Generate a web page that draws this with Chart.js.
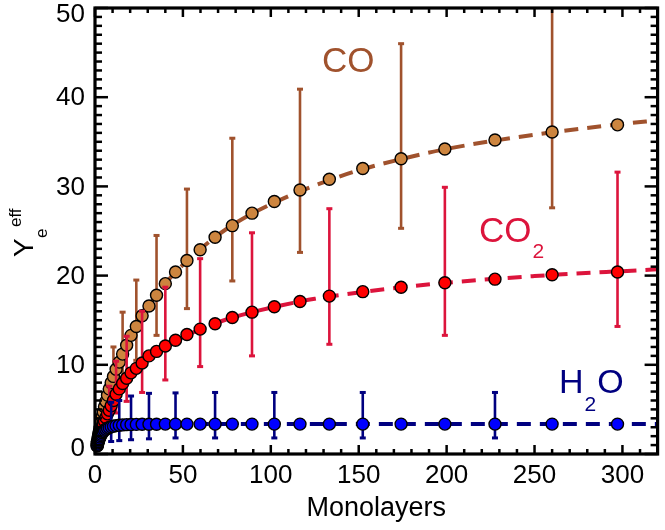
<!DOCTYPE html>
<html><head><meta charset="utf-8">
<script src="https://cdn.jsdelivr.net/npm/chart.js@4.4.0/dist/chart.umd.min.js"></script>
<style>html,body{margin:0;padding:0;background:#fff;}#wrap{width:665px;height:530px;}</style>
</head><body><div id="wrap"><canvas id="c" width="665" height="530"></canvas></div>
<script>
// ---- data ----
const monolayers = [1.2,1.4,1.6,1.8,2.1,2.4,2.8,3.2,3.6,4.1,4.7,5.4,6.2,7.1,8.1,9.2,10.5,12.0,13.8,15.7,18.0,20.5,23.5,26.8,30.7,35.0,40.0,45.8,52.3,59.8,68.3,78.1,89.3,102.0,116.6,133.3,152.3,174.1,199.0,227.5,260.0,297.2];
const yieldCO  = [1.2,1.4,1.6,1.9,2.2,2.5,2.9,3.3,3.7,4.2,4.7,5.3,5.9,6.6,7.3,8.0,8.7,9.5,10.3,11.2,12.2,13.3,14.3,15.5,16.6,17.8,19.1,20.4,21.7,22.9,24.3,25.6,27.0,28.3,29.6,30.8,32.0,33.1,34.2,35.2,36.1,36.9];
const yieldCO2 = [0.9,1.0,1.2,1.4,1.6,1.8,2.1,2.4,2.7,3.0,3.4,3.7,4.1,4.5,4.9,5.4,6.0,6.7,7.3,7.9,8.5,9.1,9.6,10.2,11.0,11.5,12.1,12.75,13.4,14.0,14.6,15.3,15.9,16.5,17.1,17.7,18.2,18.7,19.2,19.6,20.1,20.4];
const yieldH2O = [0.95,1.1,1.25,1.38,1.55,1.72,1.9,2.06,2.22,2.38,2.53,2.66,2.78,2.88,2.97,3.05,3.12,3.18,3.22,3.26,3.29,3.31,3.32,3.33,3.34,3.34,3.35,3.35,3.35,3.35,3.35,3.35,3.35,3.35,3.35,3.35,3.35,3.35,3.35,3.35,3.35,3.35];

const coErrX    = [10.5,15.7,23.5,35.0,52.3,78.1,116.6,174.1,260.0];
const coErrLow  = [6.5,8.6,10.5,13.3,16.3,19.4,22.6,25.3,27.6];
const coErrHigh = [12.0,15.9,19.5,24.5,29.7,35.4,40.9,46.0,51.0];
const co2ErrX    = [8.1,12.0,18.0,26.8,40.0,59.8,89.3,133.3,199.0,297.2];
const co2ErrLow  = [3.4,4.6,5.9,6.9,8.3,9.8,11.0,12.3,13.3,14.3];
const co2ErrHigh = [7.6,10.4,13.2,16.0,18.7,21.9,24.8,27.5,29.9,31.6];
const h2oErrX    = [9.2,13.8,20.5,30.7,45.8,68.3,102.0,152.3,227.5];
const h2oErrLow  = [1.4,1.5,1.6,1.7,1.8,1.8,1.8,1.8,1.8];
const h2oErrHigh = [5.8,6.0,6.5,6.8,6.85,6.9,6.9,6.9,6.9];

const fitX    = [0,1,2,4,7,10,15,20,30,40,50,65,80,100,125,150,175,200,250,300,320];
const fitCO   = [0.3,1.0,2.0,4.1,6.5,8.4,10.9,13.0,16.4,19.1,21.2,23.8,25.9,28.0,30.1,31.8,33.1,34.2,35.8,37.0,37.4];
const fitCO2  = [0.2,0.9,1.6,2.9,4.5,5.8,7.6,8.9,10.8,12.1,13.1,14.4,15.4,16.4,17.4,18.1,18.7,19.2,19.95,20.5,20.7];
const fitH2O  = [0.3,0.85,1.5,2.4,2.9,3.12,3.25,3.3,3.33,3.35,3.35,3.35,3.35,3.35,3.35,3.35,3.35,3.35,3.35,3.35,3.35];

const xTickValues = [0,50,100,150,200,250,300];
const yTickValues = [0,10,20,30,40,50];
const yTickLabels = ['0','10','20','30','40','50'];

// ---- styles ----
const FONT = "'Liberation Sans', Arial, Helvetica, sans-serif";
const C_CO = '#A0522D', F_CO = '#CD853F';
const C_CO2 = '#DC143C', F_CO2 = '#FF0000';
const C_H2O = '#000080', F_H2O = '#0000FF';

const pts = (xs, ys) => xs.map((x, i) => ({x, y: ys[i]}));
const errSets = {
  co:  {x: coErrX,  low: coErrLow,  high: coErrHigh,  color: C_CO},
  co2: {x: co2ErrX, low: co2ErrLow, high: co2ErrHigh, color: C_CO2},
  h2o: {x: h2oErrX, low: h2oErrLow, high: h2oErrHigh, color: C_H2O}
};

function fitSet(ys, color, order) {
  return {data: pts(fitX, ys), showLine: true, borderColor: color, borderWidth: 4,
    borderDash: [14, 9], pointRadius: 0, cubicInterpolationMode: 'monotone', fill: false, order};
}
function pointSet(ys, fillC, key, order) {
  return {data: pts(monolayers, ys), showLine: false, pointRadius: 6, pointHoverRadius: 6,
    pointBackgroundColor: fillC, pointBorderColor: '#000', pointBorderWidth: 1.4, errKey: key, order, clip: 8};
}

const errorBars = {
  id: 'errorBars',
  beforeDatasetDraw(chart, args) {
    const ds = chart.data.datasets[args.index];
    if (!ds.errKey) return;
    const e = errSets[ds.errKey];
    const {ctx, chartArea: a, scales: {x, y}} = chart;
    ctx.save();
    ctx.beginPath(); ctx.rect(a.left, a.top, a.right - a.left, a.bottom - a.top); ctx.clip();
    ctx.strokeStyle = e.color; ctx.fillStyle = e.color; ctx.lineWidth = 2.6;
    e.x.forEach((xv, i) => {
      const px = x.getPixelForValue(xv);
      const p1 = y.getPixelForValue(e.low[i]), p2 = y.getPixelForValue(e.high[i]);
      ctx.beginPath(); ctx.moveTo(px, p1); ctx.lineTo(px, p2); ctx.stroke();
      ctx.fillRect(px - 3, p1 - 1.5, 6, 3);
      ctx.fillRect(px - 3, p2 - 1.5, 6, 3);
    });
    ctx.restore();
  }
};

const frameAndText = {
  id: 'frameAndText',
  afterDraw(chart) {
    const {ctx, chartArea: a, scales: {x, y}} = chart;
    ctx.save();
    ctx.strokeStyle = '#000';
    ctx.lineWidth = 2.5;
    const seg = (x1, y1, x2, y2) => { ctx.beginPath(); ctx.moveTo(x1, y1); ctx.lineTo(x2, y2); ctx.stroke(); };
    for (let v = 0; v <= 320; v += 10) {
      const px = x.getPixelForValue(v);
      const len = v % 50 === 0 ? 9 : 5;
      seg(px, a.bottom, px, a.bottom - len);
      seg(px, a.top, px, a.top + len);
    }
    for (let v = 0; v <= 50; v += 1) {
      const py = y.getPixelForValue(v);
      const len = v % 10 === 0 ? 13 : 7;
      seg(a.left, py, a.left + len, py);
      seg(a.right, py, a.right - len, py);
    }
    ctx.lineWidth = 3.2;
    ctx.strokeRect(a.left, a.top, a.right - a.left, a.bottom - a.top);

    // y tick labels
    ctx.fillStyle = '#000';
    ctx.font = '26px ' + FONT;
    ctx.textAlign = 'right'; ctx.textBaseline = 'middle';
    yTickValues.forEach((v, i) => {
      let py = y.getPixelForValue(v) + 1;
      py = Math.max(15, Math.min(449, py));
      ctx.fillText(yTickLabels[i], a.left - 10, py);
    });

    // y axis title  Y_e^eff (rotated)
    ctx.save();
    ctx.translate(33, 257); ctx.rotate(-Math.PI / 2);
    ctx.textAlign = 'left'; ctx.textBaseline = 'alphabetic';
    ctx.font = '28px ' + FONT; ctx.fillText('Y', 0, 0);
    ctx.font = '17px ' + FONT; ctx.fillText('e', 19, 13.5); ctx.fillText('eff', 30, -12);
    ctx.restore();

    // series labels
    ctx.textAlign = 'left'; ctx.textBaseline = 'alphabetic';
    ctx.fillStyle = C_CO; ctx.font = '35px ' + FONT;
    ctx.fillText('CO', 322, 72);
    ctx.fillStyle = C_CO2; ctx.font = '35px ' + FONT;
    ctx.fillText('CO', 479, 242);
    let w = ctx.measureText('CO').width;
    ctx.font = '21px ' + FONT; ctx.fillText('2', 479 + w + 1, 258);
    ctx.fillStyle = C_H2O; ctx.font = '34px ' + FONT;
    ctx.fillText('H', 559, 393);
    let hx = 559 + ctx.measureText('H').width + 1;
    ctx.font = '21px ' + FONT; ctx.fillText('2', hx, 411);
    hx += ctx.measureText('2').width + 1;
    ctx.font = '34px ' + FONT; ctx.fillText('O', hx, 393);
    ctx.restore();
  }
};

new Chart(document.getElementById('c'), {
  type: 'scatter',
  data: {datasets: [
    fitSet(fitCO, C_CO, 6),
    pointSet(yieldCO, F_CO, 'co', 5),
    fitSet(fitCO2, C_CO2, 4),
    pointSet(yieldCO2, F_CO2, 'co2', 3),
    fitSet(fitH2O, C_H2O, 2),
    pointSet(yieldH2O, F_H2O, 'h2o', 1)
  ]},
  options: {
    responsive: false, animation: false, devicePixelRatio: 1,
    layout: {padding: {left: 0, right: 3, top: 8, bottom: 0}},
    plugins: {legend: {display: false}, tooltip: {enabled: false}},
    events: [],
    scales: {
      x: {type: 'linear', min: 0, max: 320,
        afterFit(s) { s.height = 76; },
        afterBuildTicks(s) { s.ticks = xTickValues.map(v => ({value: v})); },
        ticks: {color: '#000', font: {family: FONT, size: 26}, padding: 6, maxRotation: 0, autoSkip: false},
        grid: {display: false, drawTicks: false}, border: {display: false},
        title: {display: true, text: 'Monolayers', color: '#000', font: {family: FONT, size: 27}, padding: {top: 0, bottom: 5}}
      },
      y: {type: 'linear', min: 0, max: 50,
        afterFit(s) { s.width = 95; },
        ticks: {display: false},
        grid: {display: false, drawTicks: false}, border: {display: false}
      }
    }
  },
  plugins: [errorBars, frameAndText]
});
</script>
</body></html>
